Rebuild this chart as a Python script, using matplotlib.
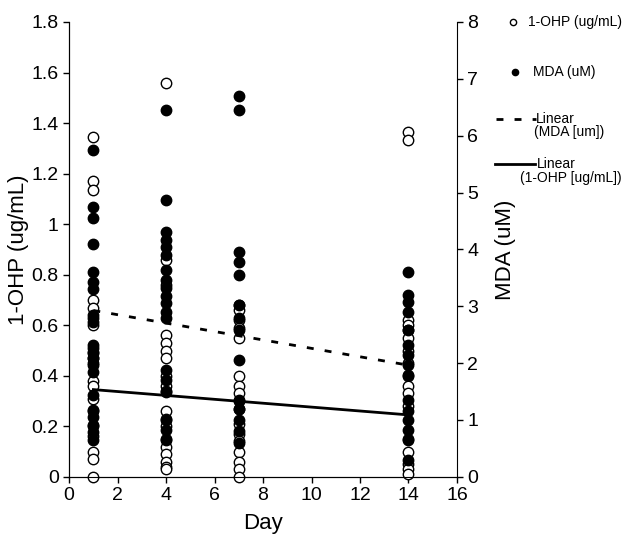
import numpy as np
import matplotlib
matplotlib.use('Agg')
import matplotlib.pyplot as plt
from matplotlib.lines import Line2D
from matplotlib.ticker import FuncFormatter

plt.rcParams['font.family'] = ['Liberation Sans', 'DejaVu Sans']

# days sampled
days = [1, 4, 7, 14]

# 1-OHP (ug/mL), open circles, left axis
ohp_day1 = [1.345, 1.17, 1.135, 0.70, 0.67, 0.63, 0.60, 0.51, 0.49, 0.47, 0.45,
            0.38, 0.36, 0.31, 0.26, 0.20, 0.16, 0.10, 0.07, 0.0]
ohp_day4 = [1.56, 0.86, 0.76, 0.56, 0.53, 0.50, 0.47, 0.40, 0.36, 0.34, 0.26,
            0.23, 0.20, 0.15, 0.12, 0.09, 0.06, 0.04, 0.03]
ohp_day7 = [0.68, 0.66, 0.62, 0.59, 0.55, 0.40, 0.36, 0.33, 0.30, 0.27, 0.21,
            0.17, 0.14, 0.10, 0.06, 0.03, 0.0]
ohp_day14 = [1.365, 1.335, 0.62, 0.60, 0.58, 0.55, 0.50, 0.45, 0.40, 0.36, 0.33,
             0.28, 0.15, 0.10, 0.05, 0.03, 0.01]

# MDA (uM), filled circles, right axis
mda_day1 = [5.75, 4.75, 4.55, 4.1, 3.6, 3.42, 3.3, 2.85, 2.72, 2.32, 2.2, 2.09,
            1.97, 1.85, 1.44, 1.18, 1.05, 0.91, 0.79, 0.65]
mda_day4 = [6.45, 4.87, 4.3, 4.17, 4.04, 3.9, 3.64, 3.46, 3.32, 3.18, 3.05,
            2.9, 2.8, 1.88, 1.7, 1.5, 1.0, 0.83, 0.65]
mda_day7 = [6.7, 6.45, 3.95, 3.78, 3.55, 3.02, 2.79, 2.58, 2.06, 1.35, 1.2,
            1.0, 0.8, 0.6]
mda_day14 = [3.6, 3.2, 3.07, 2.9, 2.58, 2.32, 2.14, 1.97, 1.79, 1.35, 1.15,
             1.0, 0.83, 0.65, 0.3]

# linear trend lines (slope, intercept)
mda_fit = (-0.074, 3.0)
ohp_fit = (-0.0077, 0.353)

ohp_all = [ohp_day1, ohp_day4, ohp_day7, ohp_day14]
mda_all = [mda_day1, mda_day4, mda_day7, mda_day14]

W, H = 640., 550.
fig = plt.figure(figsize=(6.4, 5.5), dpi=100)
ax = fig.add_axes([0.108, 0.133, 0.606, 0.827])
ax2 = ax.twinx()

for d, vals in zip(days, ohp_all):
    ax.plot([d] * len(vals), vals, 'o', ms=7.5, mfc='white', mec='black', mew=1.0,
            linestyle='none', clip_on=False, zorder=3)

for d, vals in zip(days, mda_all):
    ax2.plot([d] * len(vals), vals, 'o', ms=7.5, mfc='black', mec='black', mew=1.0,
             linestyle='none', clip_on=False, zorder=3)

xfit = np.array([days[0], days[-1]])
dots = (0, (2.5, 4))
ax2.plot(xfit, mda_fit[0] * xfit + mda_fit[1], color='black', lw=2.0,
         linestyle=dots, zorder=4)
ax.plot(xfit, ohp_fit[0] * xfit + ohp_fit[1], color='black', lw=2.0, zorder=4)

ax.set_xlim(0, 16)
ax.set_ylim(0, 1.8)
ax2.set_ylim(0, 8)
ax.set_xticks(np.arange(0, 17, 2))
ax.set_yticks(np.arange(0, 1.81, 0.2))
ax2.set_yticks(np.arange(0, 9, 1))
ax.yaxis.set_major_formatter(FuncFormatter(lambda v, p: '%g' % round(v, 1)))

for a in (ax, ax2):
    a.spines['top'].set_visible(False)
    a.tick_params(direction='out', length=4, width=1, labelsize=14)
ax.spines['right'].set_visible(False)

ax.set_xlabel('Day', fontsize=16, labelpad=6)
ax.set_ylabel('1-OHP (ug/mL)', fontsize=16, labelpad=2)
ax2.set_ylabel('MDA (uM)', fontsize=16, labelpad=12)


# legend drawn by hand so the two-line labels sit like the original
def fx(px):
    return px / W


def fy(py):
    return 1 - py / H


tf = fig.transFigure
fig.add_artist(Line2D([fx(513)], [fy(22)], marker='o', ms=4.5, mfc='white',
                      mec='black', mew=1, transform=tf))
fig.text(fx(528), fy(22), '1-OHP (ug/mL)', fontsize=10, va='center', ha='left')
fig.add_artist(Line2D([fx(515)], [fy(72)], marker='o', ms=4.5, mfc='black',
                      mec='black', transform=tf))
fig.text(fx(533), fy(72), 'MDA (uM)', fontsize=10, va='center', ha='left')
fig.add_artist(Line2D([fx(496), fx(536)], [fy(119), fy(119)], color='black', lw=2,
                      linestyle=dots, transform=tf))
fig.text(fx(536), fy(119), 'Linear', fontsize=10, va='center', ha='left')
fig.text(fx(534), fy(132), '(MDA [um])', fontsize=10, va='center', ha='left')
fig.add_artist(Line2D([fx(495), fx(535)], [fy(164), fy(164)], color='black', lw=2,
                      transform=tf))
fig.text(fx(537), fy(164), 'Linear', fontsize=10, va='center', ha='left')
fig.text(fx(520), fy(178), '(1-OHP [ug/mL])', fontsize=10, va='center', ha='left')

fig.savefig('out.png', dpi=100, facecolor='white')
